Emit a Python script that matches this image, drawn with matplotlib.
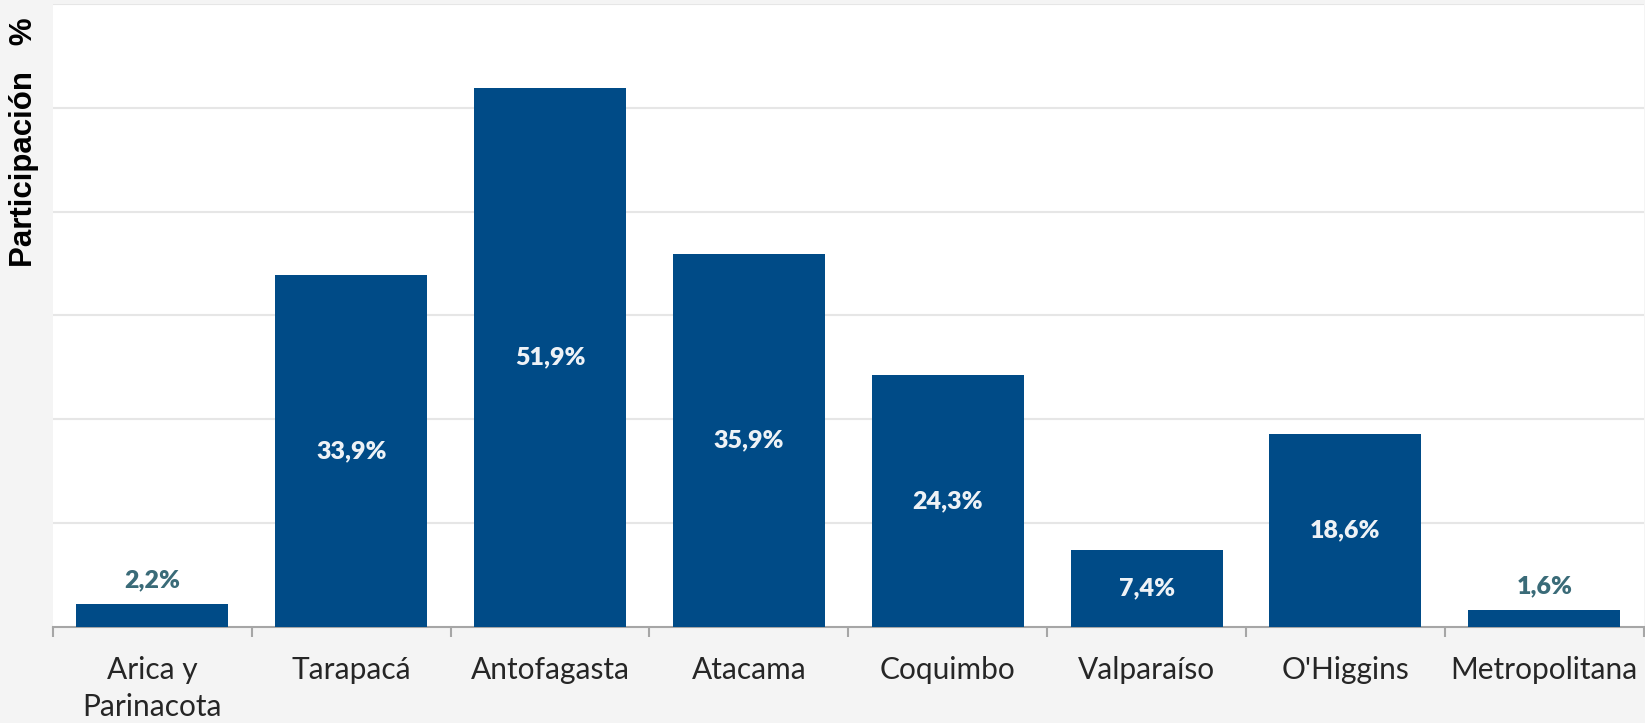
import matplotlib.pyplot as plt
import numpy as np

regiones = ["Arica y\nParinacota", "Tarapacá", "Antofagasta", "Atacama",
            "Coquimbo", "Valparaíso", "O'Higgins", "Metropolitana"]
participacion = [2.2, 33.9, 51.9, 35.9, 24.3, 7.4, 18.6, 1.6]
etiquetas = ["2,2%", "33,9%", "51,9%", "35,9%", "24,3%", "7,4%", "18,6%", "1,6%"]

azul = "#004b87"

fig = plt.figure(figsize=(16.45, 7.23), dpi=100, facecolor="#f4f4f4")
ax = fig.add_axes([0.0322, 0.1328, 0.967, 0.8617])
ax.set_facecolor("white")

x = np.arange(len(regiones))
barras = ax.bar(x, participacion, width=0.765, color=azul, zorder=3)

ax.set_ylim(0, 60)
ax.set_xlim(-0.5, len(regiones) - 0.5)
ax.set_yticks(np.arange(10, 61, 10))
ax.yaxis.grid(True, color="#e6e6e6", linewidth=1.5, zorder=0)
ax.tick_params(axis="y", length=0, labelleft=False)

for s in ["top", "right", "left"]:
    ax.spines[s].set_visible(False)
ax.spines["bottom"].set_color("#a6a6a6")
ax.spines["bottom"].set_linewidth(1.5)

ax.set_xticks(x)
ax.set_xticklabels(regiones, fontsize=21.5, family="Lato", color="#262626",
                   linespacing=1.4)
ax.tick_params(axis="x", length=0, pad=21)
ax.set_xticks(np.arange(-0.5, len(regiones), 1), minor=True)
ax.tick_params(axis="x", which="minor", length=7, width=1.5, color="#a6a6a6")

for b, v, t in zip(barras, participacion, etiquetas):
    cx = b.get_x() + b.get_width() / 2
    if v > 5:
        ax.text(cx, v / 2, t, ha="center", va="center", fontsize=18,
                fontweight="heavy", family="Lato", color="#eef2f6", zorder=4)
    else:
        ax.annotate(t, (cx, v), xytext=(0, 17), textcoords="offset points",
                    ha="center", va="center", fontsize=18, fontweight="heavy",
                    family="Lato", color="#3a6b78", zorder=4)

fig.text(0.0148, 0.803, "Participación   %", rotation=90, ha="center", va="center",
         fontsize=22.5, fontweight="bold", family="Liberation Sans", color="black")

fig.savefig("out.png", dpi=100, facecolor=fig.get_facecolor())
